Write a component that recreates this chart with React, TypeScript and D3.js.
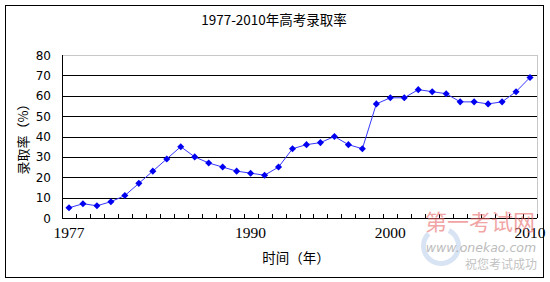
import React from "react";
import * as d3 from "d3";

const years: number[] = [
  1977, 1978, 1979, 1980, 1981, 1982, 1983, 1984, 1985, 1986, 1987, 1988,
  1989, 1990, 1991, 1992, 1993, 1994, 1995, 1996, 1997, 1998, 1999, 2000,
  2001, 2002, 2003, 2004, 2005, 2006, 2007, 2008, 2009, 2010,
];
const rates: number[] = [
  5, 7, 6, 8, 11, 17, 23, 29, 35, 30, 27, 25, 23, 22, 21, 25, 34, 36, 37, 40,
  36, 34, 56, 59, 59, 63, 62, 61, 57, 57, 56, 57, 62, 69,
];
const yTicks: number[] = [0, 10, 20, 30, 40, 50, 60, 70, 80];
const xTickLabels: number[] = [1977, 1990, 2000, 2010];
const title = "1977-2010年高考录取率";
const yTitle = "录取率（%）";
const xTitle = "时间（年）";

const W = 550;
const H = 282;
const plot = { left: 62, right: 537, top: 55, bottom: 218 };

export default function App() {
  const x = d3
    .scaleBand<number>()
    .domain(years)
    .range([plot.left, plot.right])
    .padding(0);
  const y = d3.scaleLinear().domain([0, 80]).range([plot.bottom, plot.top]);
  const cx = (yr: number) => (x(yr) as number) + x.bandwidth() / 2;

  const pts = years.map((yr, i) => [cx(yr), y(rates[i])] as [number, number]);
  const line = d3.line()(pts) as string;
  const diamond = d3.symbol(d3.symbolSquare, 25)() as string;

  const boundaries = years.map((yr) => x(yr) as number).concat([plot.right]);
  const cjk = "'Noto Sans CJK SC', 'DejaVu Sans', sans-serif";

  const logoArc = d3
    .arc()
    .innerRadius(15)
    .outerRadius(20)
    .startAngle(Math.PI * 0.15)
    .endAngle(Math.PI * 1.75)({} as any) as string;

  return (
    <svg
      width={W}
      height={H}
      style={{ position: "absolute", left: 0, top: 0, background: "#fff" }}
    >
      <rect x={0} y={0} width={W} height={H} fill="#fff" />
      <rect
        x={5.5}
        y={5.5}
        width={538}
        height={272}
        fill="#fff"
        stroke="#000"
        strokeWidth={1}
      />
      <text
        x={274}
        y={25}
        textAnchor="middle"
        fontFamily={cjk}
        fontSize={13.5}
        fill="#000"
      >
        {title}
      </text>

      {/* watermark logo behind */}
      <g opacity={0.45}>
        <path d={logoArc} transform="translate(441,246)" fill="#a9c3e6" />
      </g>

      {/* plot area top/right light edges */}
      <line x1={plot.left} x2={plot.right} y1={plot.top + 0.5} y2={plot.top + 0.5} stroke="#c8c8c8" />
      <line x1={plot.right + 0.5} x2={plot.right + 0.5} y1={plot.top} y2={plot.bottom} stroke="#c8c8c8" />

      {/* gridlines */}
      {yTicks
        .filter((t) => t > 0 && t < 80)
        .map((t) => (
          <line
            key={t}
            x1={plot.left}
            x2={plot.right}
            y1={Math.round(y(t)) + 0.5}
            y2={Math.round(y(t)) + 0.5}
            stroke="#000"
            strokeWidth={1}
          />
        ))}

      {/* axes */}
      <line x1={plot.left + 0.5} x2={plot.left + 0.5} y1={plot.top} y2={plot.bottom + 0.5} stroke="#000" />
      <line x1={plot.left} x2={plot.right} y1={plot.bottom + 0.5} y2={plot.bottom + 0.5} stroke="#000" />
      {boundaries.map((b, i) => (
        <line
          key={i}
          x1={Math.round(b) + 0.5}
          x2={Math.round(b) + 0.5}
          y1={plot.bottom - 4}
          y2={plot.bottom}
          stroke="#000"
        />
      ))}

      {/* y tick labels */}
      {yTicks.map((t) => (
        <text
          key={t}
          x={51}
          y={y(t) + 4.5}
          textAnchor="end"
          fontFamily="'DejaVu Sans', sans-serif"
          fontSize={12}
          fill="#000"
        >
          {t}
        </text>
      ))}

      {/* x tick labels */}
      {xTickLabels.map((yr) => (
        <text
          key={yr}
          x={cx(yr)}
          y={238}
          textAnchor="middle"
          fontFamily="'Liberation Serif', serif"
          fontSize={15.5}
          fill="#000"
        >
          {yr}
        </text>
      ))}

      {/* axis titles */}
      <text
        transform={`translate(28,136) rotate(-90)`}
        textAnchor="middle"
        fontFamily={cjk}
        fontSize={13}
        fill="#000"
      >
        {yTitle}
      </text>
      <text
        x={296}
        y={263}
        textAnchor="middle"
        fontFamily={cjk}
        fontSize={13.5}
        fill="#000"
      >
        {xTitle}
      </text>

      {/* series */}
      <path d={line} fill="none" stroke="#3636ff" strokeWidth={1} />
      {pts.map(([px, py], i) => (
        <path
          key={i}
          d={diamond}
          transform={`translate(${px},${py}) rotate(45)`}
          fill="#0000f0"
        />
      ))}

      {/* watermark text */}
      <g opacity={0.6}>
        <text x={480} y={230} textAnchor="middle" fontFamily={cjk} fontSize={22} fill="#e86a6a">
          第一考试网
        </text>
        <text x={481} y={252} textAnchor="middle" fontFamily="'DejaVu Sans', sans-serif" fontStyle="italic" fontSize={12.5} fill="#8f8f8f">
          www.onekao.com
        </text>
        <text x={501} y={269} textAnchor="middle" fontFamily={cjk} fontSize={12} fill="#9a9a9a">
          祝您考试成功
        </text>
      </g>
    </svg>
  );
}
